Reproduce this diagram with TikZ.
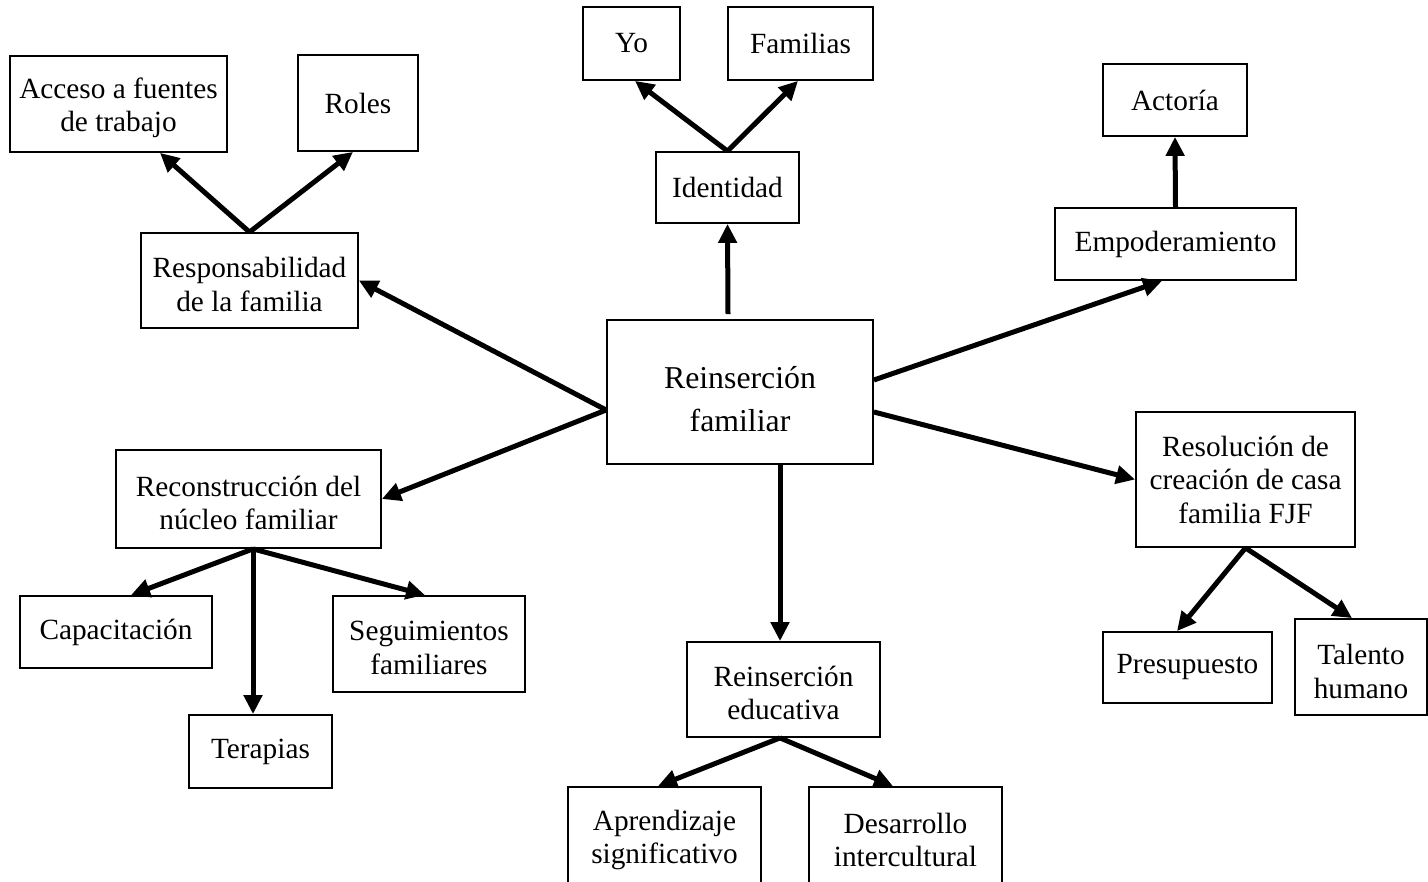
\documentclass[tikz,border=0pt]{standalone}
\usepackage{fontspec}
\setmainfont{Liberation Serif}
\usetikzlibrary{arrows.meta}
\newcommand\mystrut[1]{\rule{0pt}{#1}}
\begin{document}
\begin{tikzpicture}[x=1pt,y=-1pt,
  box/.style={draw,line width=1.8pt,inner sep=0pt,align=center,font=\fontsize{29.3}{33.5}\selectfont},
  bigbox/.style={box,font=\fontsize{31.8}{43}\selectfont},
  arr/.style={line width=5pt,-{Triangle[length=19pt,width=18pt]}}]
\useasboundingbox (0,0) rectangle (1428,882);
\clip (0,0) rectangle (1428,882);
\fill[white] (0,0) rectangle (1428,882);
% nodes
\node[box,minimum width=217pt,minimum height=96pt] (acc) at (118.5,104) {\mystrut{28pt}Acceso a fuentes\\de trabajo};
\node[box,minimum width=120pt,minimum height=96pt] (rol) at (358,103) {Roles};
\node[box,minimum width=217pt,minimum height=95pt] (resp) at (249.5,280.5) {\mystrut{28pt}Responsabilidad\\de la familia};
\node[box,minimum width=97pt,minimum height=73pt] (yo) at (631.5,43.5) {Yo};
\node[box,minimum width=145pt,minimum height=73pt] (fam) at (800.5,43.5) {Familias};
\node[box,minimum width=143pt,minimum height=71pt] (ide) at (727.5,187.5) {Identidad};
\node[box,minimum width=144pt,minimum height=72pt] (act) at (1175,100) {Actoría};
\node[box,minimum width=241pt,minimum height=72pt] (emp) at (1175.5,244) {Empoderamiento};
\node[bigbox,minimum width=266pt,minimum height=144pt] (rf) at (740,392) {\mystrut{36pt}Reinserción\\familiar};
\node[box,minimum width=265pt,minimum height=98pt] (rec) at (248.5,499) {\mystrut{28pt}Reconstrucción del\\núcleo familiar};
\node[box,minimum width=192pt,minimum height=72pt] (cap) at (116,632) {Capacitación};
\node[box,minimum width=192pt,minimum height=96pt] (seg) at (429,644) {\mystrut{27pt}Seguimientos\\familiares};
\node[box,minimum width=143pt,minimum height=73pt] (ter) at (260.5,751.5) {Terapias};
\node[box,minimum width=193pt,minimum height=95pt] (edu) at (783.5,689.5) {\mystrut{27pt}Reinserción\\educativa};
\node[box,minimum width=193pt,minimum height=96pt] (apr) at (664.5,835) {\mystrut{30pt}Aprendizaje\\significativo};
\node[box,minimum width=193pt,minimum height=96pt] (des) at (905.5,835) {\mystrut{30pt}Desarrollo\\intercultural};
\node[box,minimum width=219pt,minimum height=135pt] (res) at (1245.5,479.5) {Resolución de\\creación de casa\\familia FJF};
\node[box,minimum width=169pt,minimum height=71pt] (pre) at (1187.5,667.5) {Presupuesto};
\node[box,minimum width=132pt,minimum height=96pt] (tal) at (1361,667) {\mystrut{29pt}Talento\\humano};
% connectors
\draw[arr] (resp.north) -- ([xshift=41.5pt]acc.south);
\draw[arr] (resp.north) -- ([xshift=-5pt]rol.south);
\draw[arr] (ide.north) -- ([xshift=3.5pt]yo.south);
\draw[arr] (ide.north) -- ([xshift=-2.5pt]fam.south);
\draw[arr] ([xshift=-12pt,yshift=5pt]rf.north) -- (ide.south);
\draw[arr] (emp.north) -- (act.south);
\draw[arr] ([yshift=12pt]rf.east) -- ([xshift=-13.5pt]emp.south);
\draw[arr] ([yshift=-20pt]rf.east) -- (res.west);
\draw[arr] ([xshift=40pt]rf.south) -- ([xshift=-3.5pt]edu.north);
\draw[arr] ([yshift=-18pt]rf.west) -- (resp.east);
\draw[arr] ([yshift=-18pt]rf.west) -- (rec.east);
\draw[arr] ([xshift=4.5pt]rec.south) -- ([xshift=15pt]cap.north);
\draw[arr] ([xshift=4.5pt]rec.south) -- ([xshift=-7.5pt]ter.north);
\draw[arr] ([xshift=4.5pt]rec.south) -- ([xshift=-4pt]seg.north);
\draw[arr] ([xshift=-3.5pt]edu.south) -- ([xshift=-6.5pt]apr.north);
\draw[arr] ([xshift=-3.5pt]edu.south) -- ([xshift=-12.5pt]des.north);
\draw[arr] (res.south) -- ([xshift=-10.5pt]pre.north);
\draw[arr] (res.south) -- ([xshift=-9pt]tal.north);
\end{tikzpicture}
\end{document}
